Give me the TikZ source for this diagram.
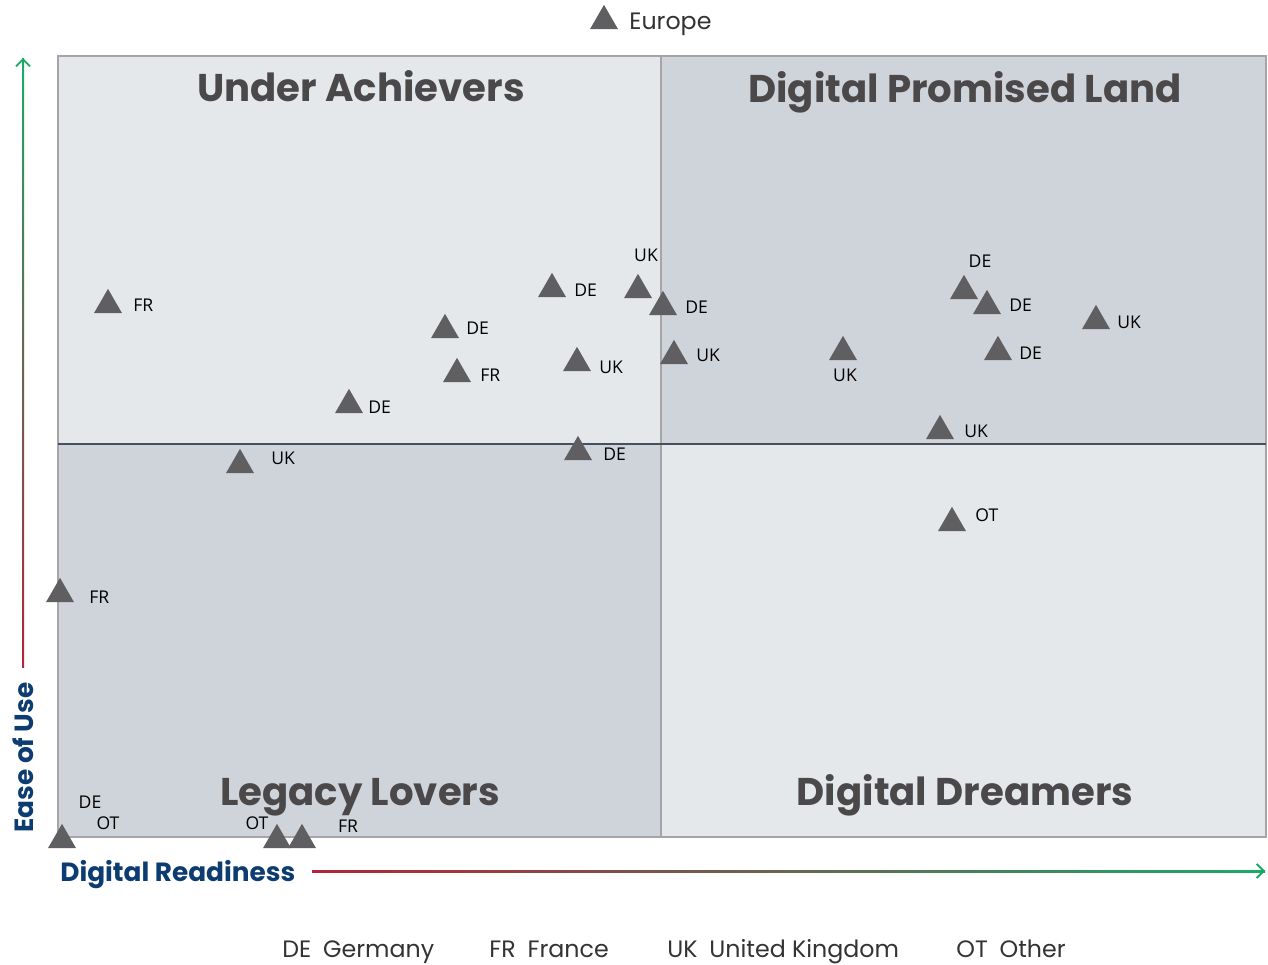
\documentclass[tikz,border=0pt]{standalone}
\usepackage{fontspec}
\setmainfont{Open Sans}
\newfontfamily\geofont{Poppins}
\usetikzlibrary{shapes.geometric,arrows.meta}

\definecolor{quadlight}{HTML}{E4E8EB}
\definecolor{quaddark}{HTML}{CFD3DA}
\definecolor{framegray}{HTML}{A3A5A8}
\definecolor{midline}{HTML}{4A4F5E}
\definecolor{markgray}{HTML}{5F5F61}
\definecolor{titlegray}{HTML}{4A4849}
\definecolor{axisblue}{HTML}{0D3C70}
\definecolor{axred}{HTML}{B3243A}
\definecolor{axgreen}{HTML}{1AAA64}

\tikzset{
  tri/.style={regular polygon, regular polygon sides=3, fill=markgray, inner sep=0pt, minimum size=0.646cm},
  lbl/.style={font=\fontsize{10}{12}\selectfont, inner sep=0pt, anchor=west},
  lblc/.style={font=\fontsize{10}{12}\selectfont, inner sep=0pt},
  quadtitle/.style={font=\geofont\bfseries\fontsize{22}{26}\selectfont, text=titlegray, anchor=base, inner sep=0pt},
  axislabel/.style={font=\geofont\bfseries\fontsize{15}{18}\selectfont, text=axisblue, anchor=base west, inner sep=0pt},
  legend/.style={font=\geofont\fontsize{13.5}{16}\selectfont, text=titlegray!70!black, anchor=base west, inner sep=0pt}
}

\begin{document}
\begin{tikzpicture}[x=0.02cm,y=-0.02cm]
\useasboundingbox (0,0) rectangle (1268,964);

% quadrants
\fill[quadlight] (58,56)  rectangle (661,444);
\fill[quaddark]  (661,56) rectangle (1266,444);
\fill[quaddark]  (58,444) rectangle (661,837);
\fill[quadlight] (661,444) rectangle (1266,837);
\draw[framegray, line width=0.6pt] (58,56) rectangle (1266,837);
\draw[framegray, line width=0.6pt] (661,56) -- (661,837);
\draw[midline, line width=1pt] (58,444) -- (1266,444);

\node[quadtitle] (under)   at (361,101) {Under Achievers};
\node[quadtitle] (promise) at (965,102) {Digital Promised Land};
\node[quadtitle] (legacy)  at (360,805) {Legacy Lovers};
\node[quadtitle] (dreamer) at (965,805) {Digital Dreamers};

% axes
\coordinate (ybot) at (23,667);
\coordinate (ytop) at (23,58);
\coordinate (xbeg) at (312,871);
\coordinate (xend) at (1265,871);
\shade[bottom color=axred, top color=axgreen] (22,667) rectangle (24,58);
\shade[left color=axred, right color=axgreen] (312,870) rectangle (1265,872);
\draw[axgreen, line width=1.1pt, -{Straight Barb[length=4pt, width=8pt]}] (23,90) -- (ytop);
\draw[axgreen, line width=1.1pt, -{Straight Barb[length=4pt, width=8pt]}] (1230,871) -- (xend);

\node[axislabel] (readiness) at (60,881) {Digital Readiness};
\node[axislabel, rotate=90] (ease) at (33,833) {Ease of Use};

% Europe key
\node[tri] (europe) at (604,21) {};
\node[legend] (europel) at (629,29) {Europe};

% under achievers
\node[tri] (fr1) at (108,305) {};  \node[lbl] (fr1l) at (133,305) {FR};
\node[tri] (de1) at (445,330) {};  \node[lbl] (de1l) at (466,328) {DE};
\node[tri] (fr2) at (457,374) {};  \node[lbl] (fr2l) at (480,375) {FR};
\node[tri] (de2) at (552,289) {};  \node[lbl] (de2l) at (574,290) {DE};
\node[tri] (uk1) at (577,363) {};  \node[lbl] (uk1l) at (599,367) {UK};
\node[tri] (uk2) at (638,290) {};  \node[lblc] (uk2l) at (646,255) {UK};
\node[tri] (de3) at (663,307) {};  \node[lbl] (de3l) at (685,307) {DE};
\node[tri] (de4) at (349,405) {};  \node[lbl] (de4l) at (368,407) {DE};
\node[tri] (uk3) at (674,356) {};  \node[lbl] (uk3l) at (696,355) {UK};
\node[tri] (de5) at (578,452) {};  \node[lbl] (de5l) at (603,454) {DE};

% promised land and dreamers
\node[tri] (de6) at (964,291) {};  \node[lblc] (de6l) at (980,261) {DE};
\node[tri] (de7) at (987,306) {};  \node[lbl] (de7l) at (1009,305) {DE};
\node[tri] (uk4) at (1096,321) {}; \node[lbl] (uk4l) at (1117,322) {UK};
\node[tri] (uk5) at (843,352) {};  \node[lblc] (uk5l) at (845,375) {UK};
\node[tri] (de8) at (998,352) {};  \node[lbl] (de8l) at (1019,353) {DE};
\node[tri] (uk6) at (940,431) {};  \node[lbl] (uk6l) at (964,431) {UK};
\node[tri] (ot1) at (952,523) {};  \node[lbl] (ot1l) at (975,515) {OT};

% legacy lovers
\node[tri] (uk7) at (240,465) {};  \node[lbl] (uk7l) at (271,458) {UK};
\node[tri] (fr3) at (60,594) {};   \node[lbl] (fr3l) at (89,597) {FR};
\node[tri] (de9) at (62,840) {};   \node[lblc] (de9l) at (90,802) {DE};
                                   \node[lblc] (ot2l) at (108,823) {OT};
\node[tri] (ot3) at (277,840) {};  \node[lblc] (ot3l) at (257,823) {OT};
\node[tri] (fr4) at (302,840) {};  \node[lblc] (fr4l) at (348,826) {FR};

% legend
\node[legend] (keyde) at (282,957) {DE\enspace Germany};
\node[legend] (keyfr) at (489,957) {FR\enspace France};
\node[legend] (keyuk) at (667,957) {UK\enspace United Kingdom};
\node[legend] (keyot) at (956,957) {OT\enspace Other};

\end{tikzpicture}
\end{document}
